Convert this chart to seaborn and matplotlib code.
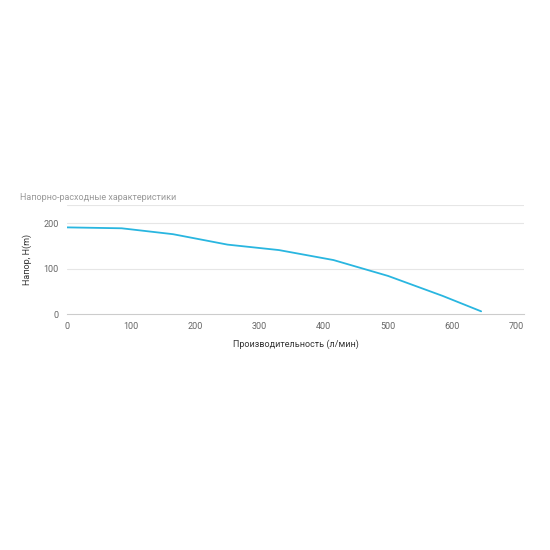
import matplotlib
matplotlib.use("Agg")
import matplotlib.pyplot as plt
import seaborn as sns
import pandas as pd

# Производительность (л/мин) и напор (м)
flow = [0, 85, 165, 250, 330, 415, 500, 585, 645]
head = [191, 189, 176, 153, 141, 119, 84, 40, 6]

sns.set_style("white")
plt.rcParams['font.family'] = ['Roboto', 'DejaVu Sans']

fig = plt.figure(figsize=(5.5, 5.5), dpi=100)
ax = fig.add_axes([0.122, 0.429, 0.831, 0.198])

df = pd.DataFrame({'flow': flow, 'head': head})
sns.lineplot(data=df, x='flow', y='head', ax=ax, color='#29b6e0', linewidth=1.3)

ax.set_xlim(0, 712)
ax.set_ylim(0, 240)
ax.set_xticks(range(0, 701, 100))
ax.set_yticks([0, 100, 200])
for y in [100, 200, 240]:
    ax.axhline(y, color='#e6e6e6', linewidth=0.8, zorder=0)
for s in ['top', 'right', 'left']:
    ax.spines[s].set_visible(False)
ax.spines['bottom'].set_color('#cccccc')
ax.tick_params(axis='both', length=0, labelsize=6.5, colors='#666666', pad=6)
ax.set_xlabel('Производительность (л/мин)', fontsize=6.5, color='#333333', labelpad=6)
ax.set_ylabel('Напор, H(m)', fontsize=6.5, color='#333333', labelpad=8)
fig.text(20 / 550, 1 - 198 / 550, 'Напорно-расходные характеристики',
         fontsize=6.5, color='#999999', va='center')

fig.savefig('out.png', dpi=100)
